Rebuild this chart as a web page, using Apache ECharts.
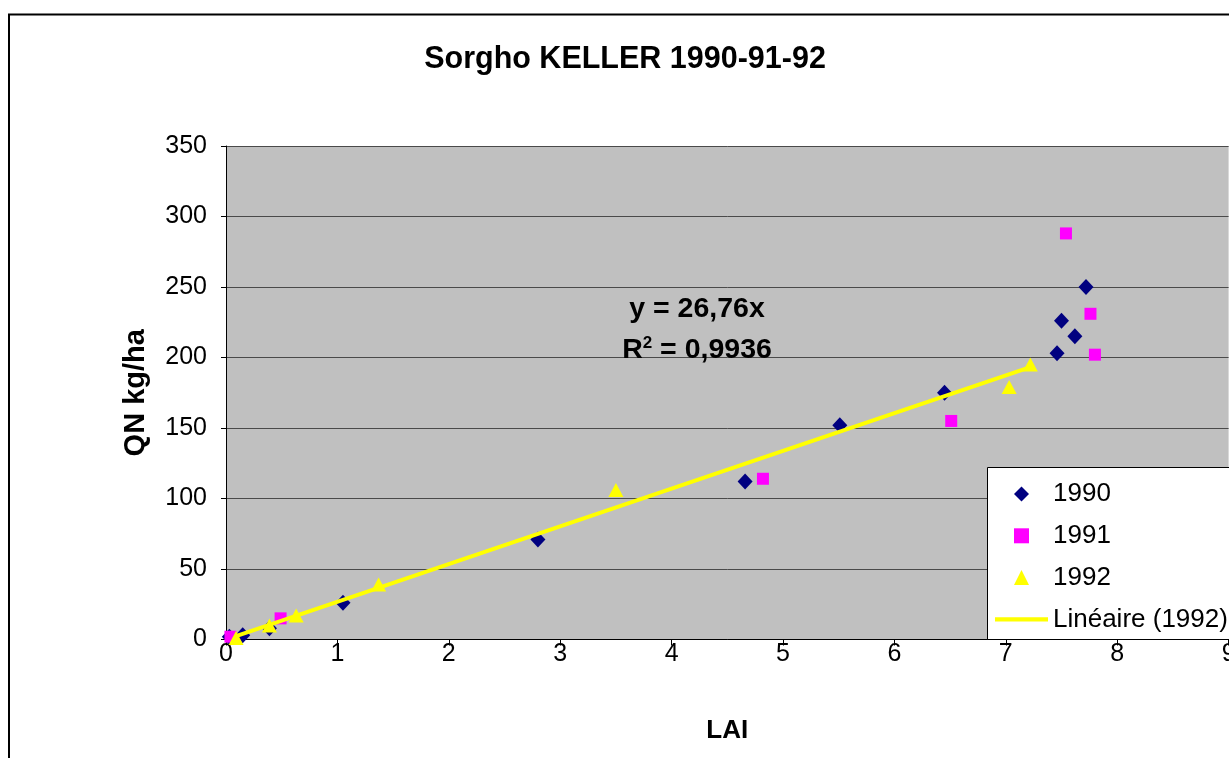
<!DOCTYPE html>
<html>
<head>
<meta charset="utf-8">
<script src="https://cdn.jsdelivr.net/npm/echarts@6/dist/echarts.min.js"></script>
<style>
html,body{margin:0;padding:0;background:#fff;}
#c{width:1229px;height:758px;}
</style>
</head>
<body>
<div id="c"></div>
<script>
// Data: [LAI, QN kg/ha]
const data1990 = [[0.03, 2], [0.15, 3], [0.39, 8], [1.05, 26], [2.80, 71], [4.66, 112], [5.51, 152], [6.45, 175], [7.46, 203], [7.50, 226], [7.62, 215], [7.72, 250]];
const data1991 = [[0.04, 2], [0.49, 15], [4.82, 114], [6.51, 155], [7.54, 288], [7.76, 231], [7.80, 202]];
const data1992 = [[0.09, 1], [0.39, 10], [0.63, 17], [1.37, 39], [3.50, 106], [7.03, 179], [7.22, 195]];
const trend1992 = [[0.09, 2.4], [7.22, 193.2]];
const seriesNames = ['1990', '1991', '1992', 'Linéaire (1992)'];
const titleText = 'Sorgho KELLER 1990-91-92';
const xName = 'LAI';
const yName = 'QN kg/ha';
const eqLine = 'y = 26,76x';
const r2Value = '0,9936';

const FONT = '"Liberation Sans", Arial, sans-serif';
const chart = echarts.init(document.getElementById('c'), null, {renderer: 'canvas'});
chart.setOption({
  animation: false,
  backgroundColor: '#ffffff',
  textStyle: {fontFamily: FONT},
  title: {
    text: titleText,
    left: 620, top: 39, textAlign: 'center',
    textStyle: {fontFamily: FONT, fontSize: 30.5, fontWeight: 'bold', color: '#000'}
  },
  grid: {
    left: 226, top: 146, width: 1002.6, height: 493.5,
    outerBoundsMode: 'none', containLabel: false,
    show: true, backgroundColor: '#c0c0c0', borderWidth: 0
  },
  xAxis: {
    type: 'value', min: 0, max: 9, interval: 1,
    name: xName, nameLocation: 'middle', nameGap: 78,
    nameTextStyle: {fontFamily: FONT, fontSize: 26, fontWeight: 'bold', color: '#000'},
    axisLine: {show: true, onZero: false, lineStyle: {color: '#000', width: 1}},
    axisTick: {show: true, inside: false, length: 6, lineStyle: {color: '#000'}},
    axisLabel: {fontFamily: FONT, fontSize: 25, color: '#000', margin: 2},
    splitLine: {show: false}
  },
  yAxis: {
    type: 'value', min: 0, max: 350, interval: 50,
    name: yName, nameLocation: 'middle', nameGap: 76,
    nameTextStyle: {fontFamily: FONT, fontSize: 29, fontWeight: 'bold', color: '#000'},
    axisLine: {show: true, onZero: false, lineStyle: {color: '#000', width: 1}},
    axisTick: {show: true, inside: false, length: 5, lineStyle: {color: '#000'}},
    axisLabel: {fontFamily: FONT, fontSize: 25, color: '#000', margin: 19},
    splitLine: {show: true, lineStyle: {color: '#4a4a4a', width: 1}}
  },
  legend: {
    orient: 'vertical',
    left: 995, top: 481,
    padding: 0,
    itemWidth: 53, itemHeight: 15,
    itemGap: 15.8,
    symbolKeepAspect: true,
    z: 10,
    data: [
      {name: seriesNames[0], icon: 'path://M0,-1L1,0L0,1L-1,0Z'},
      {name: seriesNames[1], icon: 'path://M0,0H1V1H0Z'},
      {name: seriesNames[2], icon: 'path://M0,-1L1,1L-1,1Z'},
      {name: seriesNames[3], icon: 'path://M0,0H52V4H0Z'}
    ],
    textStyle: {fontFamily: FONT, fontSize: 26, color: '#000', lineHeight: 26}
  },
  graphic: [
    {type: 'rect', z: 100, silent: true,
     shape: {x: 9, y: 14.5, width: 1400, height: 900},
     style: {fill: 'none', stroke: '#000', lineWidth: 2}},
    {type: 'rect', z: 5, silent: true,
     shape: {x: 987.5, y: 467.5, width: 300, height: 172},
     style: {fill: '#ffffff', stroke: '#000', lineWidth: 1}},
    {type: 'text', z: 20, silent: true, x: 697, y: 309,
     style: {text: eqLine, fontFamily: FONT, fontSize: 28.5, fontWeight: 'bold', fill: '#000',
             align: 'center', verticalAlign: 'middle'}},
    {type: 'text', z: 20, silent: true, x: 697, y: 350,
     style: {text: '{r|R}{s|2}{r| = ' + r2Value + '}',
             align: 'center', verticalAlign: 'middle',
             rich: {
               r: {fontFamily: FONT, fontSize: 28.5, fontWeight: 'bold', fill: '#000', lineHeight: 31},
               s: {fontFamily: FONT, fontSize: 17, fontWeight: 'bold', fill: '#000', verticalAlign: 'top', lineHeight: 17}
             }}}
  ],
  series: [
    {name: seriesNames[0], type: 'scatter', data: data1990, symbol: 'diamond', symbolSize: [15, 16],
     itemStyle: {color: '#000080', opacity: 1}},
    {name: seriesNames[1], type: 'scatter', data: data1991, symbol: 'rect', symbolSize: 12,
     itemStyle: {color: '#ff00ff', opacity: 1}},
    {name: seriesNames[2], type: 'scatter', data: data1992, symbol: 'triangle', symbolSize: [15, 14],
     itemStyle: {color: '#ffff00', opacity: 1}},
    {name: seriesNames[3], type: 'line', data: trend1992, symbol: 'none', showSymbol: false,
     lineStyle: {color: '#ffff00', width: 4}, itemStyle: {color: '#ffff00'}}
  ]
});
</script>
</body>
</html>
